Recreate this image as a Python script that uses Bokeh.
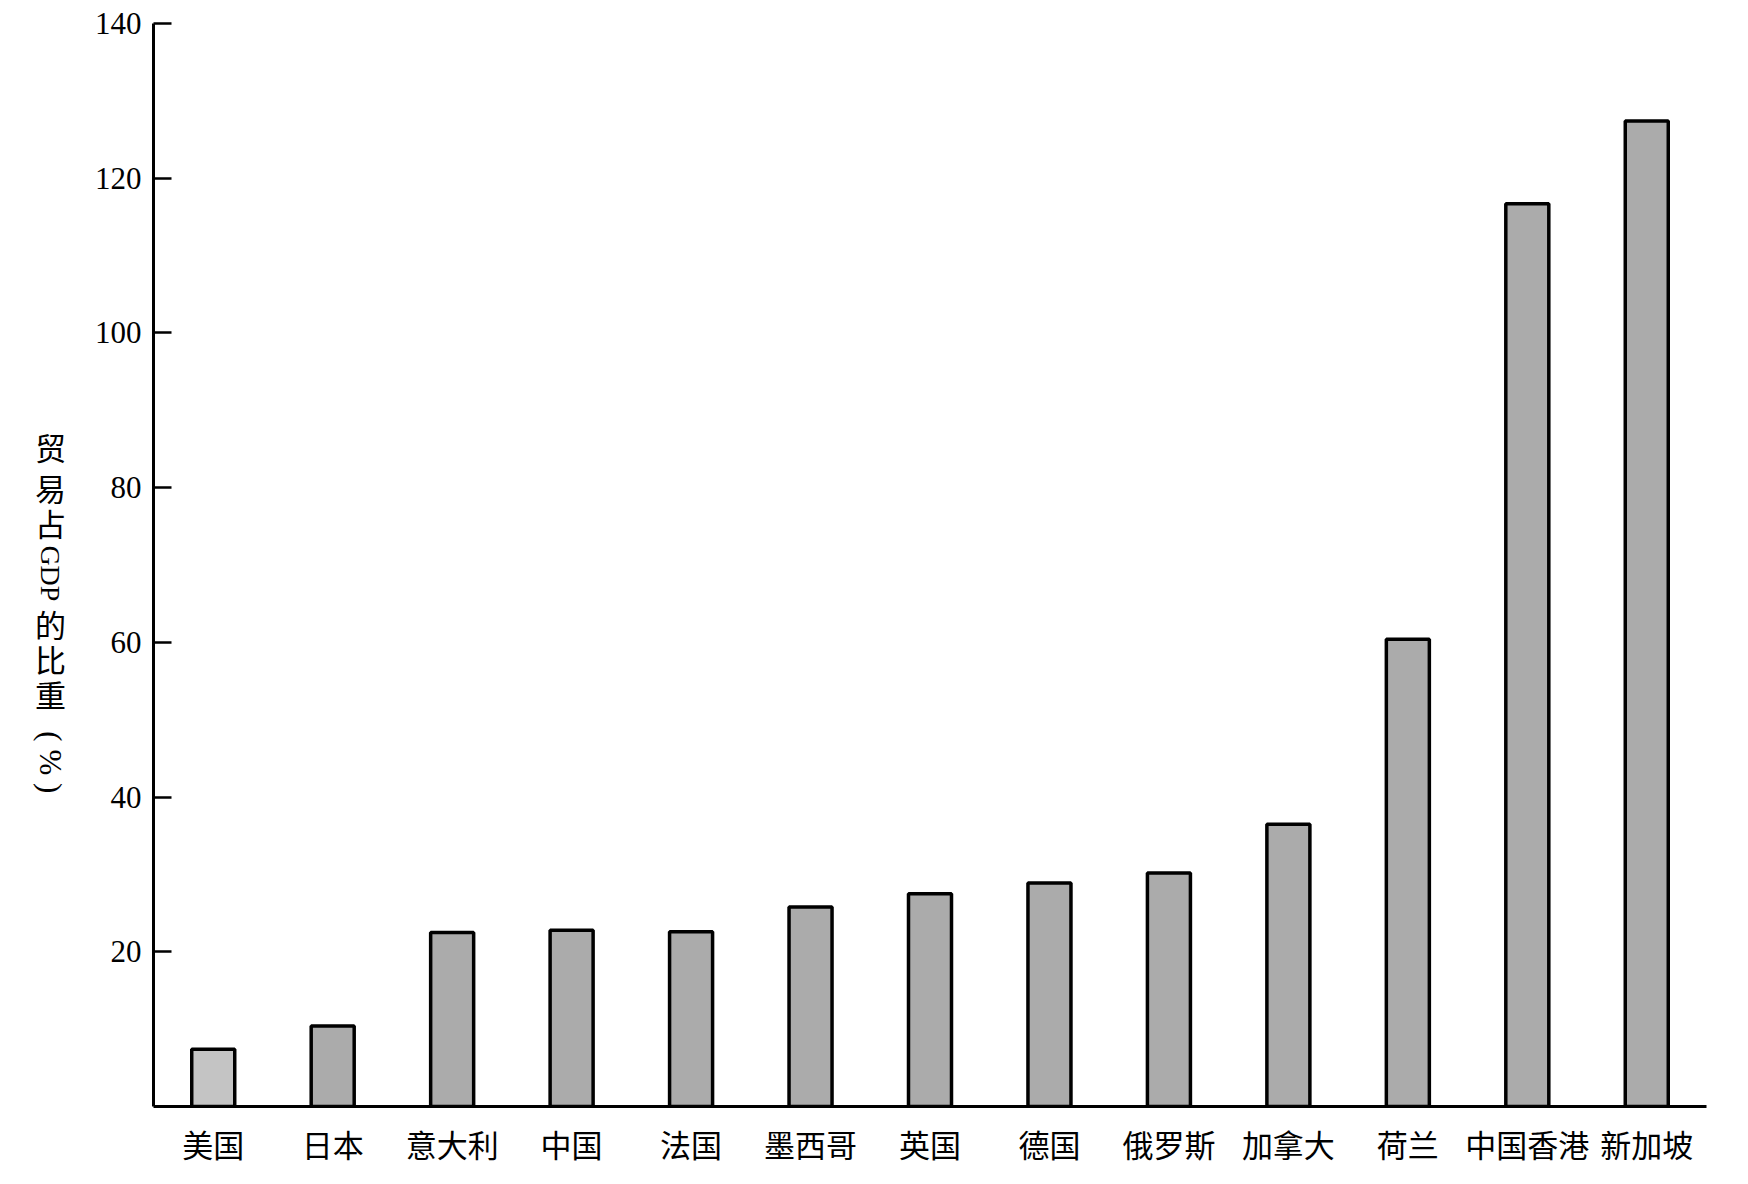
import math
from bokeh.plotting import figure
from bokeh.layouts import row
from bokeh.models import FactorRange, Range1d, FixedTicker, ColumnDataSource
from bokeh.core.properties import value
from bokeh.embed import file_html
from bokeh.resources import INLINE

countries = ["美国", "日本", "意大利", "中国", "法国", "墨西哥", "英国", "德国",
             "俄罗斯", "加拿大", "荷兰", "中国香港", "新加坡"]
trade_share = [7.4, 10.4, 22.5, 22.8, 22.6, 25.8, 27.5, 28.9, 30.2, 36.5, 60.4, 116.7, 127.4]
bar_colors = ["#c4c4c4"] + ["#ababab"] * 12
y_ticks = [20, 40, 60, 80, 100, 120, 140]
y_title_upright = ["贸", "易", "占", "的", "比", "重"]

H = 1168
LABEL_W = 82
FRAME_LEFT = 153
FRAME_TOP = 23
FRAME_BOTTOM = 1118
Y_MAX = 140
PX_PER_UNIT = (FRAME_BOTTOM - FRAME_TOP) / Y_MAX


def page_to_val(y_px):
    return (FRAME_BOTTOM - y_px) / PX_PER_UNIT


y_range = Range1d(0, Y_MAX)

# --- left strip holding the vertical y-axis title (shares the y range) ---
lf = figure(width=LABEL_W, height=H, x_range=Range1d(0, LABEL_W), y_range=y_range,
            x_axis_type=None, y_axis_type=None, output_backend="svg",
            toolbar_location=None, min_border_left=0, min_border_right=0,
            min_border_top=FRAME_TOP, min_border_bottom=H - FRAME_BOTTOM)
lf.outline_line_color = None
lf.xgrid.grid_line_color = None
lf.ygrid.grid_line_color = None

cjk = value("Noto Sans CJK SC")
up_px = [451, 492, 528, 630, 665, 700]
lf.text(x=[50] * len(y_title_upright), y=[page_to_val(v) for v in up_px],
        text=y_title_upright, text_font=cjk, text_font_size="31px",
        text_align="center", text_baseline="middle", text_color="black")
lf.text(x=[50], y=[page_to_val(579)], text=["GDP"], text_font=value("Liberation Serif"),
        text_font_size="28px", angle=-math.pi / 2, text_align="center",
        text_baseline="middle", text_color="black")
lf.text(x=[50], y=[page_to_val(770)], text=["( % )"], text_font=value("Liberation Serif"),
        text_font_size="31px", angle=-math.pi / 2, text_align="center",
        text_baseline="middle", text_color="black")

# --- main bar chart ---
src = ColumnDataSource(dict(x=countries, top=trade_share, color=bar_colors))

p = figure(x_range=FactorRange(*countries, range_padding=0),
           y_range=y_range,
           width=1732 - LABEL_W, height=H,
           output_backend="svg", toolbar_location=None,
           min_border_left=FRAME_LEFT - LABEL_W, min_border_right=26,
           min_border_top=FRAME_TOP, min_border_bottom=H - FRAME_BOTTOM)
p.outline_line_color = None
p.xgrid.grid_line_color = None
p.ygrid.grid_line_color = None
p.background_fill_color = "white"

p.vbar(x="x", top="top", bottom=0, width=0.36, source=src,
       fill_color="color", line_color="black", line_width=3.5)

ya = p.yaxis[0]
ya.ticker = FixedTicker(ticks=y_ticks)
ya.axis_line_width = 3
ya.axis_line_color = "black"
ya.major_tick_in = 18
ya.major_tick_out = 0
ya.major_tick_line_width = 2.5
ya.minor_tick_line_color = None
ya.major_label_text_font = "Liberation Serif"
ya.major_label_text_font_size = "31px"
ya.major_label_text_color = "black"
ya.major_label_standoff = 12

xa = p.xaxis[0]
xa.axis_line_width = 3
xa.axis_line_color = "black"
xa.major_tick_line_color = None
xa.minor_tick_line_color = None
xa.major_label_text_font = "Noto Sans CJK SC"
xa.major_label_text_font_size = "31px"
xa.major_label_text_color = "black"
xa.major_label_standoff = 8

layout = row(lf, p, spacing=0)
open("out.html", "w").write(file_html(layout, INLINE))
